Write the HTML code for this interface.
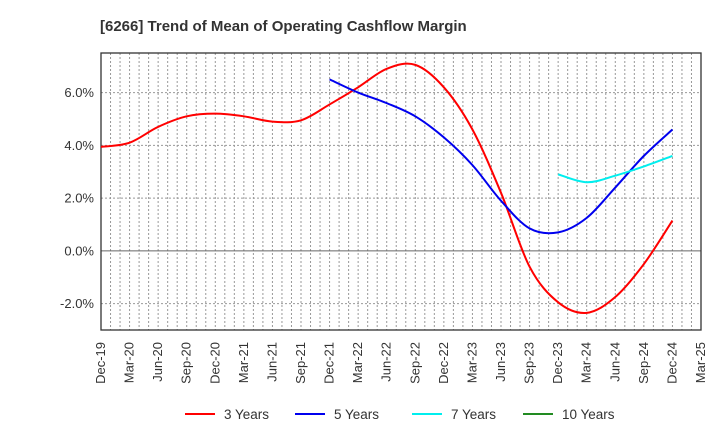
<!DOCTYPE html>
<html><head><meta charset="utf-8"><style>
body{margin:0;background:#fff;font-family:"Liberation Sans",Arial,sans-serif;}
</style></head><body>
<svg width="720" height="440" xmlns="http://www.w3.org/2000/svg" font-family="Liberation Sans, Arial, sans-serif">
<text x="100" y="31" font-size="15" font-weight="bold" fill="#333">[6266]  Trend of Mean of Operating Cashflow Margin</text>
<g id="grid"></g><g id="axes"></g><g id="series"></g><g id="legend"></g>
</svg>
<script>
const categories=["Dec-19","Mar-20","Jun-20","Sep-20","Dec-20","Mar-21","Jun-21","Sep-21","Dec-21","Mar-22","Jun-22","Sep-22","Dec-22","Mar-23","Jun-23","Sep-23","Dec-23","Mar-24","Jun-24","Sep-24","Dec-24","Mar-25"];
const yTicks=[-2,0,2,4,6];
const yTickLabels=["-2.0%","0.0%","2.0%","4.0%","6.0%"];
const s3=[3.94,4.1,4.7,5.1,5.2,5.1,4.9,4.95,5.55,6.2,6.9,7.05,6.2,4.6,2.2,-0.6,-1.95,-2.35,-1.75,-0.5,1.15,null];
const s5=[null,null,null,null,null,null,null,null,6.5,6.0,5.6,5.1,4.3,3.25,1.9,0.85,0.7,1.25,2.4,3.6,4.6,null];
const s7=[null,null,null,null,null,null,null,null,null,null,null,null,null,null,null,null,2.9,2.6,2.85,3.2,3.6,null];
const s10=[];
const seriesNames=["3 Years","5 Years","7 Years","10 Years"];
const seriesColors=["#ff0000","#0000ee","#00eeee","#228b22"];
const L=101,R=701,T=53,B=330,yMin=-3,yMax=7.5;
const NS="http://www.w3.org/2000/svg";
const xs=i=>L+i*(R-L)/(categories.length-1);
const ys=v=>B-(v-yMin)/(yMax-yMin)*(B-T);
function mk(tag,attrs,parent){const e=document.createElementNS(NS,tag);for(const k in attrs)e.setAttribute(k,attrs[k]);parent.appendChild(e);return e;}
const grid=document.getElementById('grid'),axes=document.getElementById('axes'),ser=document.getElementById('series'),leg=document.getElementById('legend');
for(let m=1;m<(categories.length-1)*3;m++){const x=L+m*(R-L)/((categories.length-1)*3);
const g=mk('line',{x1:x,x2:x,y1:T,y2:B,stroke:'#999','stroke-dasharray':'2,2','stroke-width':1},grid);

}
yTicks.forEach((v,i)=>{const y=ys(v);
const g=mk('line',{x1:L,x2:R,y1:y,y2:y,stroke:v===0?'#666':'#999','stroke-dasharray':v===0?'':'2,2','stroke-width':1},grid);


const t=mk('text',{x:L-7,y:y+4.5,'font-size':13,'text-anchor':'end',fill:'#333'},axes);t.textContent=yTickLabels[i];

});
const fr=mk('rect',{x:L,y:T,width:R-L,height:B-T,fill:'none',stroke:'#333','stroke-width':1.3},axes);


categories.forEach((c,i)=>{const x=xs(i);
const t=mk('text',{x:0,y:0,'font-size':13,'text-anchor':'end',fill:'#333',transform:`translate(${x+4},${B+12}) rotate(-90)`},axes);t.textContent=c;

});
function path(data){const p=[];data.forEach((v,i)=>{if(v!=null)p.push([xs(i),ys(v)]);});if(p.length<2)return '';
let d=`M${p[0][0]},${p[0][1]}`;for(let i=0;i<p.length-1;i++){const p0=p[i-1]||p[i],p1=p[i],p2=p[i+1],p3=p[i+2]||p2;
d+=` C${p1[0]+(p2[0]-p0[0])/6},${p1[1]+(p2[1]-p0[1])/6} ${p2[0]-(p3[0]-p1[0])/6},${p2[1]-(p3[1]-p1[1])/6} ${p2[0]},${p2[1]}`;}return d;}
[s3,s5,s7,s10].forEach((s,k)=>{const d=path(s);if(!d)return;
const e=mk('path',{d:d,fill:'none',stroke:seriesColors[k],'stroke-width':2},ser);

});
const lx=[185,295,412,523];
seriesNames.forEach((n,k)=>{
const g=mk('g',{},leg);


mk('line',{x1:lx[k],x2:lx[k]+30,y1:414,y2:414,stroke:seriesColors[k],'stroke-width':2},g);
const t=mk('text',{x:lx[k]+39,y:419,'font-size':13.5,fill:'#333'},g);t.textContent=n;});
</script>
</body></html>
